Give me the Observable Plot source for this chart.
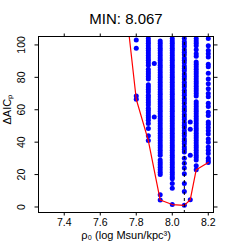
<!DOCTYPE html>
<html>
<head>
<meta charset="utf-8">
<script src="https://cdn.jsdelivr.net/npm/d3@7"></script>
<script src="https://cdn.jsdelivr.net/npm/@observablehq/plot@0.6"></script>
<style>
  html, body { margin: 0; padding: 0; background: #fff; }
  svg { display: block; }
</style>
</head>
<body>
<div id="chart"></div>
<script>
// ---- data ----
const titleText = "MIN: 8.067";
const minRho = 8.067;

const rho7800 = 7.8;
const aic7800 = [103, 98, 68.5, 66.5];

const rho7867 = 7.867;
const aic7867 = [104, 102.5, 101, 99.5, 98, 96.5, 95, 93.5, 92, 90.5, 89, 87.5, 85, 83.5, 82, 80.5, 79, 75.5, 74, 72.5, 71, 69, 67.5, 66, 64.5, 63, 61, 59.5, 58, 56.5, 55, 53.5, 51.5, 48.5, 44, 41];

const rho7900 = 7.9;
const aic7900 = [88.5, 55.5];

const rho7933 = 7.933;
const aic7933 = [102.5, 101, 99.5, 98, 96.5, 95, 93.5, 92, 90.5, 89, 87.5, 86, 84.5, 83, 81.5, 80, 78.5, 77, 75.5, 74, 72.5, 71, 69.5, 68, 66.5, 65, 63.5, 62, 60.5, 59, 57.5, 56, 54.5, 53, 51.5, 50, 48.5, 47, 45.5, 44, 42.5, 41, 39.5, 38, 36.5, 35, 33.5, 32, 29, 27.5, 26, 24.5, 23, 21.5, 20, 7.5, 4.3];

const rho8000 = 8.0;
const aic8000 = [104, 102.5, 101, 99.5, 98, 96.5, 95, 93.5, 92, 90.5, 89, 87.5, 86, 84.5, 83, 81.5, 80, 78.5, 77, 75.5, 74, 72.5, 71, 69.5, 68, 66.5, 65, 63.5, 62, 60.5, 59, 57.5, 56, 54.5, 53, 51.5, 50, 48.5, 47, 45.5, 44, 42.5, 41, 39.5, 38, 36.5, 35, 33.5, 32, 30.5, 29, 27.5, 26, 24.5, 23, 21.5, 20, 18.5, 17.5, 14.5, 11.5, 1.5];

const rho8067 = 8.067;
const aic8067 = [104, 102, 100.5, 99, 97, 95.5, 94, 92, 90.5, 89, 87, 85.5, 84, 82, 80.5, 79, 77, 75.5, 74, 72, 70.5, 69, 67, 65.5, 64, 62, 60.5, 59, 57, 55.5, 54, 52, 50.5, 49, 47, 45.5, 44, 42, 40.5, 39, 37, 35.5, 34, 30, 27, 24, 20.5, 14.5, 9.5, 1.0];

const rho8100 = 8.1;
const aic8100 = [52.5, 48, 32, 4.5];

const rho8133 = 8.133;
const aic8133 = [104, 102.5, 101, 99.5, 97, 94.5, 93, 89.5, 88, 86.5, 85, 83.5, 82, 80.5, 79, 77.5, 76, 74.5, 73, 71.5, 70, 68.5, 65, 63.5, 62, 60.5, 59, 57.5, 56, 54.5, 53, 51.5, 50, 48.5, 47, 45.5, 44, 42.5, 41, 39.5, 38, 36.5, 35, 33.5, 32, 30.5, 29, 25.5, 23];

const rho8200 = 8.2;
const aic8200 = [104, 99.5, 96.5, 94.5, 92.5, 88, 86.5, 82.5, 79, 76, 73, 70, 68, 64, 62, 58.5, 56.5, 52.5, 51, 49, 47, 45, 42, 40, 37, 35, 33, 30, 28.5, 27.5];

// minimum envelope (red line)
const lineRho = [7.733, 7.8, 7.867, 7.933, 8.0, 8.067, 8.1, 8.133, 8.2];
const lineAIC = [133, 66.5, 41, 4.3, 1.5, 1.0, 4.5, 23, 27.5];

const xTicks = [7.4, 7.6, 7.8, 8.0, 8.2];
const yTicks = [0, 20, 40, 60, 80, 100];

// ---- build tables ----
const columns = [
  [rho7800, aic7800], [rho7867, aic7867], [rho7900, aic7900], [rho7933, aic7933],
  [rho8000, aic8000], [rho8067, aic8067], [rho8100, aic8100], [rho8133, aic8133],
  [rho8200, aic8200]
];
const points = columns.flatMap(([r, vals]) => vals.map(v => ({rho: r, aic: v})));
const envelope = lineRho.map((r, i) => ({rho: r, aic: lineAIC[i]}));

const font = "'Liberation Sans', Arial, Helvetica, sans-serif";

const chart = Plot.plot({
  width: 249,
  height: 249,
  marginLeft: 38,
  marginRight: 36,
  marginTop: 36,
  marginBottom: 37,
  style: {fontFamily: font, background: "white", color: "black"},
  x: {domain: [7.257, 8.229], axis: null},
  y: {domain: [-3.4, 105.2], axis: null},
  marks: [
    Plot.dot(points, {x: "rho", y: "aic", r: 2.5, fill: "#0000FF", stroke: "none", clip: true}),
    Plot.line(envelope, {x: "rho", y: "aic", stroke: "#FF0000", strokeWidth: 1.2, clip: true}),
    Plot.ruleX([minRho], {stroke: "black", strokeDasharray: "3,3", strokeWidth: 1}),
    Plot.frame({stroke: "black"}),
    Plot.axisX(xTicks, {anchor: "bottom", tickSize: 3.5, tickPadding: 2.5, tickFormat: d3.format(".1f"), fontSize: 10.5, label: null}),
    Plot.axisX(xTicks, {anchor: "top", tickSize: 3.5, tickFormat: () => "", label: null}),
    Plot.axisY(yTicks, {anchor: "left", tickSize: 3.5, tickFormat: () => "", label: null}),
    Plot.axisY(yTicks, {anchor: "right", tickSize: 3.5, tickFormat: () => "", label: null}),
    Plot.text(yTicks, {y: d => d, text: d => String(d), frameAnchor: "left", dx: -16.5, rotate: -90, textAnchor: "middle", lineAnchor: "middle", fontSize: 10.5}),
    Plot.text([titleText], {frameAnchor: "top", lineAnchor: "bottom", dy: -12.7, fontSize: 15}),
    Plot.text(["ρ₀ (log Msun/kpc³)"], {frameAnchor: "bottom", lineAnchor: "bottom", dy: 26, fontSize: 11}),
    Plot.text(["ΔAICₚ"], {frameAnchor: "left", rotate: -90, lineAnchor: "middle", dx: -31, fontSize: 11})
  ]
});

document.getElementById("chart").appendChild(chart);
</script>
</body>
</html>
